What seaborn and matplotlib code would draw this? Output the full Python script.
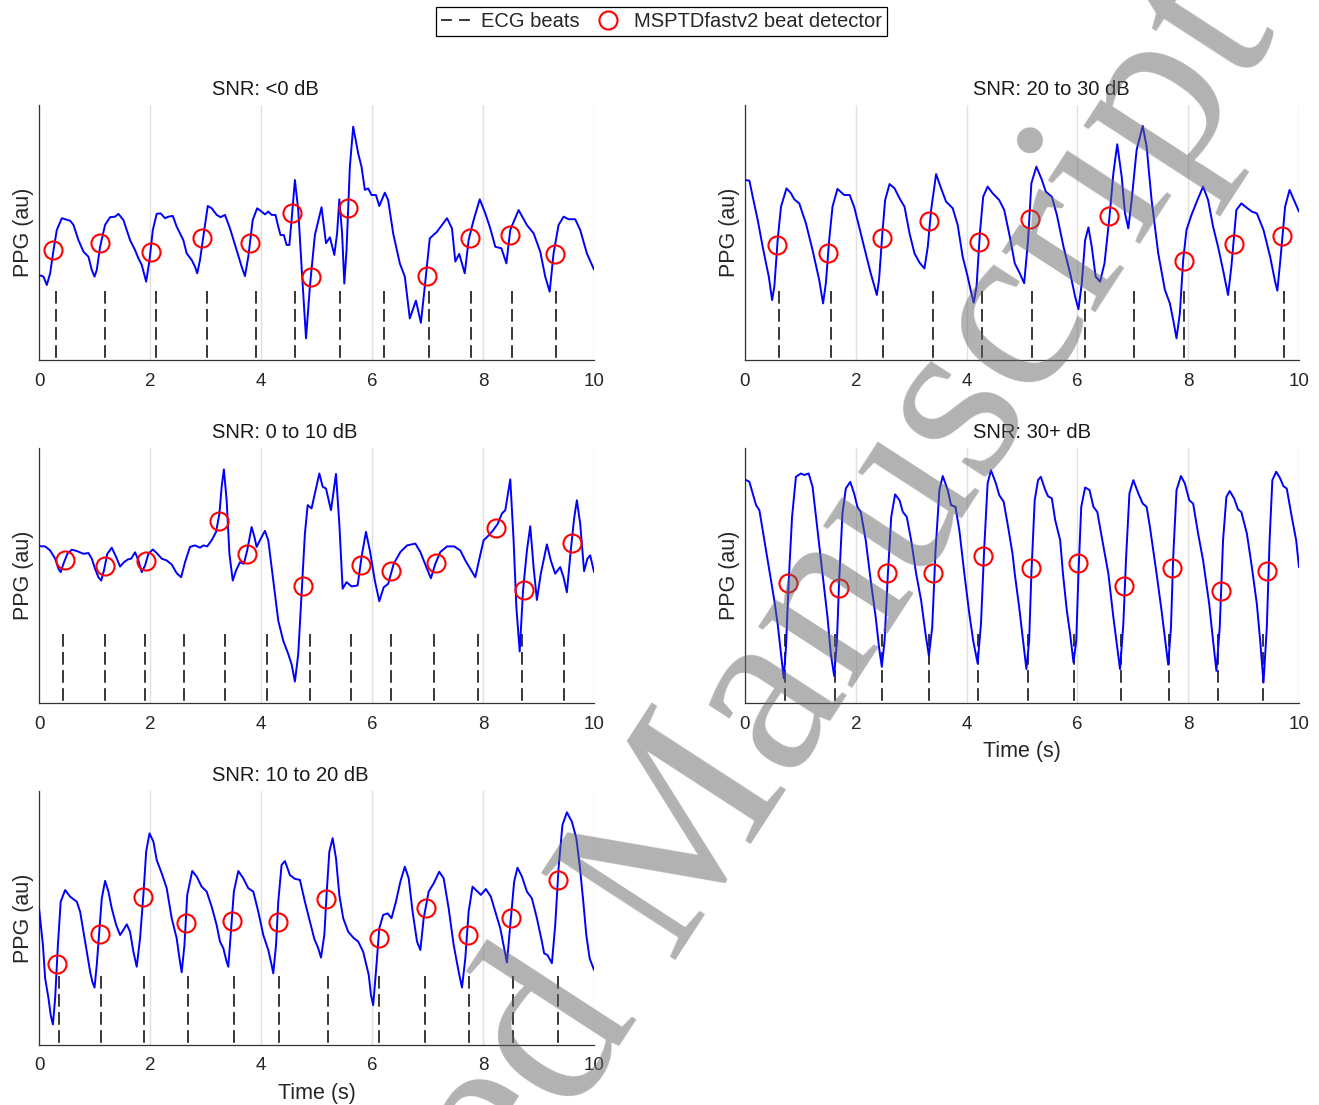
import numpy as np
import matplotlib
matplotlib.use("Agg")
import matplotlib.pyplot as plt
import seaborn as sns
from matplotlib.lines import Line2D

sns.set_style("white")
plt.rcParams['font.family'] = ['Liberation Sans', 'DejaVu Sans']

# ---- SNR: <0 dB ----
t_lt0 = [0.00, 0.08, 0.14, 0.20, 0.26, 0.32, 0.41, 0.56, 0.62, 0.71, 0.80, 0.89, 0.95, 1.00, 1.04,
         1.10, 1.19, 1.28, 1.37, 1.43, 1.52, 1.64, 1.73, 1.79, 1.85, 1.93, 1.99, 2.05, 2.12, 2.19,
         2.27, 2.33, 2.41, 2.48, 2.60, 2.66, 2.75, 2.81, 2.85, 2.90, 2.96, 3.04, 3.11, 3.20, 3.27,
         3.35, 3.44, 3.56, 3.65, 3.71, 3.77, 3.85, 3.93, 4.01, 4.07, 4.13, 4.19, 4.26, 4.31, 4.35,
         4.41, 4.46, 4.51, 4.56, 4.61, 4.67, 4.73, 4.81, 4.88, 4.97, 5.09, 5.17, 5.24, 5.32, 5.37,
         5.41, 5.46, 5.50, 5.54, 5.60, 5.66, 5.75, 5.81, 5.87, 5.93, 5.99, 6.07, 6.13, 6.23, 6.29,
         6.38, 6.50, 6.59, 6.68, 6.79, 6.88, 6.95, 7.04, 7.17, 7.35, 7.44, 7.50, 7.57, 7.67, 7.74,
         7.83, 7.94, 8.04, 8.13, 8.22, 8.33, 8.42, 8.49, 8.64, 8.79, 8.91, 9.03, 9.12, 9.20, 9.27,
         9.36, 9.45, 9.54, 9.66, 9.75, 9.87, 10.00]
ppg_lt0 = [33.3, 32.7, 29.4, 34.0, 43.0, 51.0, 55.6, 54.6, 53.0, 47.0, 42.5, 40.5, 35.3, 32.7, 35.3,
           44.4, 53.0, 56.0, 56.2, 57.3, 54.9, 47.0, 43.1, 39.9, 37.3, 30.7, 39.2, 51.0, 57.3, 57.5,
           55.6, 56.2, 56.5, 52.3, 47.0, 41.8, 39.2, 36.6, 34.0, 39.2, 48.4, 60.4, 59.5, 56.9, 56.0,
           56.9, 51.6, 43.1, 36.6, 32.9, 40.5, 54.9, 59.5, 58.2, 57.1, 58.2, 56.9, 56.9, 52.3, 49.0,
           49.0, 45.1, 45.1, 57.5, 70.6, 58.8, 36.6, 8.5, 28.8, 49.0, 59.9, 45.8, 48.1, 41.2, 49.7,
           63.0, 49.7, 30.0, 43.1, 75.8, 91.5, 81.0, 75.8, 66.7, 67.3, 64.7, 64.7, 60.4, 65.6, 62.7,
           49.7, 37.9, 32.7, 16.3, 23.3, 14.6, 28.8, 47.7, 50.3, 55.6, 51.6, 38.6, 41.6, 34.0, 47.1,
           54.9, 63.0, 57.5, 51.6, 44.4, 43.8, 37.9, 51.0, 58.8, 52.9, 49.7, 42.5, 32.7, 26.8, 41.8,
           52.9, 56.2, 55.2, 55.2, 51.0, 41.8, 35.4]
det_t_lt0 = [0.26, 1.10, 2.01, 2.94, 3.80, 4.56, 4.90, 5.56, 6.99, 7.77, 8.49, 9.29]
det_y_lt0 = [43.1, 45.8, 42.5, 48.0, 46.0, 57.8, 32.7, 59.5, 33.1, 48.0, 49.0, 41.6]
ecg_lt0 = [0.31, 1.19, 2.11, 3.03, 3.90, 4.61, 5.42, 6.22, 7.02, 7.78, 8.52, 9.31]

# ---- SNR: 20 to 30 dB ----
t_20 = [0.00, 0.08, 0.14, 0.23, 0.32, 0.38, 0.43, 0.49, 0.53, 0.59, 0.65, 0.75, 0.83, 0.89, 0.98,
        1.10, 1.22, 1.34, 1.41, 1.46, 1.52, 1.58, 1.67, 1.79, 1.89, 1.97, 2.06, 2.18, 2.27, 2.33,
        2.38, 2.42, 2.48, 2.53, 2.61, 2.70, 2.79, 2.88, 2.97, 3.06, 3.15, 3.24, 3.30, 3.36, 3.45,
        3.54, 3.63, 3.75, 3.84, 3.93, 4.02, 4.08, 4.13, 4.18, 4.24, 4.30, 4.38, 4.47, 4.59, 4.68,
        4.78, 4.87, 4.96, 5.04, 5.11, 5.17, 5.26, 5.36, 5.43, 5.54, 5.63, 5.75, 5.87, 5.96, 6.02,
        6.08, 6.14, 6.20, 6.26, 6.33, 6.41, 6.49, 6.58, 6.65, 6.72, 6.80, 6.86, 6.92, 6.98, 7.07,
        7.18, 7.25, 7.34, 7.46, 7.58, 7.67, 7.73, 7.79, 7.85, 7.91, 7.97, 8.06, 8.18, 8.27, 8.36,
        8.45, 8.54, 8.63, 8.72, 8.78, 8.87, 8.96, 9.07, 9.15, 9.24, 9.36, 9.48, 9.57, 9.61, 9.67,
        9.75, 9.83, 9.91, 10.00]
ppg_20 = [70.6, 70.3, 64.0, 54.9, 44.4, 37.9, 32.7, 23.5, 28.8, 47.0, 60.1, 67.3, 65.4, 63.0, 61.4,
          53.6, 43.1, 31.4, 22.2, 30.1, 47.0, 60.1, 67.1, 64.7, 64.7, 60.1, 52.3, 41.8, 34.0, 29.4,
          25.5, 31.4, 49.7, 62.7, 69.0, 67.3, 63.4, 60.1, 49.7, 41.8, 38.2, 35.9, 44.4, 58.8, 72.9,
          67.3, 62.1, 59.5, 52.9, 40.5, 32.7, 26.8, 22.5, 28.8, 49.7, 64.0, 68.0, 65.4, 62.7, 58.8,
          48.4, 37.9, 34.0, 30.1, 47.0, 69.3, 75.8, 70.6, 66.0, 64.0, 56.9, 44.4, 34.0, 24.8, 19.9,
          30.1, 47.0, 52.0, 44.4, 32.7, 30.7, 37.9, 56.2, 73.2, 84.6, 71.9, 57.5, 51.6, 62.7, 82.4,
          91.8, 83.7, 62.7, 41.8, 27.5, 22.2, 15.7, 8.5, 18.3, 39.2, 51.0, 56.9, 63.4, 68.0, 62.7,
          52.3, 44.4, 35.3, 25.5, 36.6, 58.8, 61.4, 59.5, 58.2, 57.5, 51.0, 40.5, 30.7, 27.2, 40.5,
          60.1, 66.7, 62.7, 58.2]
det_t_20 = [0.58, 1.50, 2.47, 3.33, 4.23, 5.14, 6.58, 7.92, 8.83, 9.70]
det_y_20 = [45.1, 42.0, 47.7, 54.5, 46.1, 55.3, 56.3, 38.8, 45.4, 48.8]
ecg_20 = [0.62, 1.55, 2.50, 3.39, 4.27, 5.19, 6.14, 7.02, 7.92, 8.85, 9.73]

# ---- SNR: 0 to 10 dB ----
t_0 = [0.00, 0.11, 0.20, 0.29, 0.35, 0.39, 0.44, 0.51, 0.59, 0.68, 0.80, 0.89, 0.95, 1.01, 1.07,
       1.12, 1.17, 1.23, 1.31, 1.39, 1.46, 1.53, 1.60, 1.66, 1.73, 1.79, 1.85, 1.91, 1.97, 2.05,
       2.12, 2.21, 2.30, 2.39, 2.48, 2.56, 2.63, 2.72, 2.81, 2.90, 2.96, 3.03, 3.11, 3.19, 3.25,
       3.29, 3.33, 3.38, 3.43, 3.49, 3.55, 3.62, 3.69, 3.75, 3.83, 3.88, 3.92, 4.01, 4.07, 4.13,
       4.19, 4.25, 4.31, 4.40, 4.49, 4.55, 4.61, 4.67, 4.73, 4.79, 4.84, 4.91, 4.97, 5.05, 5.11,
       5.17, 5.26, 5.35, 5.41, 5.47, 5.54, 5.63, 5.74, 5.81, 5.89, 5.96, 6.05, 6.13, 6.21, 6.29,
       6.39, 6.51, 6.63, 6.78, 6.87, 6.99, 7.06, 7.14, 7.23, 7.35, 7.48, 7.59, 7.68, 7.77, 7.86,
       7.94, 8.01, 8.10, 8.18, 8.26, 8.34, 8.40, 8.49, 8.55, 8.60, 8.66, 8.72, 8.79, 8.85, 8.91,
       8.97, 9.04, 9.15, 9.22, 9.30, 9.39, 9.45, 9.51, 9.58, 9.64, 9.69, 9.75, 9.82, 9.88, 9.93,
       10.00]
ppg_0 = [61.5, 61.4, 59.8, 56.6, 52.6, 51.3, 54.6, 58.5, 60.1, 59.6, 58.5, 58.8, 56.6, 52.6, 49.3,
         48.0, 52.0, 58.5, 60.9, 57.2, 53.5, 55.2, 56.3, 56.6, 59.1, 55.9, 51.3, 53.9, 58.5, 60.2,
         58.8, 56.6, 55.9, 54.3, 50.9, 49.3, 55.2, 61.2, 61.8, 60.9, 61.8, 61.4, 63.8, 67.1, 74.3,
         84.8, 91.6, 79.5, 58.5, 48.0, 52.0, 55.2, 54.6, 59.8, 69.0, 65.1, 61.2, 65.1, 67.5, 63.8,
         53.3, 42.8, 32.3, 24.4, 19.2, 15.2, 8.4, 19.2, 42.8, 66.4, 77.6, 76.3, 82.2, 90.0, 84.8,
         84.1, 75.6, 89.8, 70.3, 44.8, 47.4, 45.7, 46.1, 57.2, 67.1, 59.8, 48.0, 39.9, 45.4, 46.7,
         54.6, 59.2, 61.8, 62.5, 59.2, 52.6, 48.9, 54.6, 59.2, 61.4, 61.4, 59.8, 55.9, 52.6, 49.3,
         57.2, 63.8, 65.7, 67.7, 70.1, 74.3, 75.6, 87.7, 63.8, 37.5, 20.2, 44.1, 59.8, 69.3, 53.3,
         40.4, 50.7, 62.2, 55.9, 50.7, 53.3, 49.3, 43.4, 59.8, 72.3, 79.5, 70.3, 51.7, 56.6, 57.9,
         51.3]
det_t_0 = [0.46, 1.19, 1.93, 3.24, 3.75, 4.75, 5.80, 6.35, 7.15, 8.24, 8.73, 9.60]
det_y_0 = [55.9, 53.9, 55.6, 71.4, 58.5, 45.9, 54.3, 51.7, 54.9, 68.6, 44.5, 62.9]
ecg_0 = [0.43, 1.18, 1.91, 2.62, 3.35, 4.11, 4.88, 5.62, 6.34, 7.11, 7.90, 8.70, 9.45]

# ---- SNR: 30+ dB ----
t_30 = [0.00, 0.08, 0.14, 0.20, 0.26, 0.35, 0.44, 0.53, 0.59, 0.65, 0.70, 0.74, 0.79, 0.85, 0.92,
        1.01, 1.07, 1.15, 1.22, 1.31, 1.40, 1.49, 1.55, 1.61, 1.66, 1.70, 1.76, 1.82, 1.90, 1.97,
        2.03, 2.09, 2.18, 2.27, 2.36, 2.42, 2.47, 2.52, 2.58, 2.64, 2.71, 2.79, 2.85, 2.92, 3.00,
        3.09, 3.18, 3.26, 3.32, 3.38, 3.44, 3.51, 3.57, 3.66, 3.72, 3.80, 3.87, 3.96, 4.05, 4.12,
        4.20, 4.26, 4.32, 4.38, 4.44, 4.53, 4.59, 4.67, 4.74, 4.83, 4.87, 4.95, 5.02, 5.08, 5.13,
        5.17, 5.23, 5.29, 5.34, 5.42, 5.47, 5.54, 5.60, 5.69, 5.74, 5.81, 5.87, 5.93, 5.98, 6.02,
        6.07, 6.14, 6.22, 6.29, 6.36, 6.44, 6.56, 6.65, 6.72, 6.77, 6.83, 6.88, 6.94, 7.01, 7.10,
        7.18, 7.25, 7.31, 7.43, 7.52, 7.58, 7.64, 7.69, 7.73, 7.79, 7.87, 7.94, 8.02, 8.09, 8.18,
        8.27, 8.38, 8.45, 8.51, 8.57, 8.63, 8.69, 8.75, 8.83, 8.90, 8.96, 9.06, 9.15, 9.24, 9.30,
        9.36, 9.42, 9.47, 9.52, 9.59, 9.66, 9.72, 9.78, 9.87, 9.95, 10.00]
ppg_30 = [87.7, 86.7, 82.2, 77.6, 75.6, 63.8, 52.0, 40.2, 31.0, 19.2, 9.7, 21.8, 48.0, 73.0, 88.7,
          90.0, 89.4, 90.0, 84.8, 67.7, 50.7, 33.6, 19.2, 10.6, 24.4, 48.0, 74.3, 84.1, 86.7, 82.2,
          76.9, 74.9, 63.8, 48.0, 33.6, 21.8, 14.2, 24.4, 50.7, 73.0, 81.8, 79.5, 74.9, 73.0, 63.8,
          50.7, 40.2, 27.0, 18.5, 29.7, 59.8, 83.5, 89.0, 83.5, 77.6, 76.9, 67.7, 50.7, 34.9, 24.4,
          15.5, 31.0, 61.2, 86.1, 91.3, 86.1, 81.5, 78.9, 70.3, 58.5, 50.7, 37.5, 24.4, 13.3, 24.4,
          50.7, 79.5, 87.4, 88.7, 83.5, 81.1, 80.2, 71.7, 63.8, 50.7, 36.2, 27.0, 15.9, 24.4, 50.7,
          76.9, 84.5, 83.5, 76.9, 74.9, 65.1, 50.7, 33.6, 21.8, 13.3, 31.0, 57.2, 82.2, 87.4, 82.2,
          78.2, 76.9, 69.0, 50.7, 36.2, 25.7, 15.0, 29.7, 57.2, 83.5, 89.0, 86.1, 79.5, 78.2, 66.4,
          55.9, 38.8, 24.4, 12.6, 29.7, 63.8, 80.8, 83.1, 80.2, 75.9, 74.9, 66.4, 53.3, 38.8, 24.4,
          8.0, 29.7, 63.8, 87.4, 90.7, 88.1, 85.0, 84.1, 73.0, 63.8, 53.3]
det_t_30 = [0.78, 1.70, 2.56, 3.40, 4.29, 5.17, 6.02, 6.84, 7.71, 8.59, 9.43]
det_y_30 = [47.0, 45.0, 50.9, 50.9, 57.6, 53.0, 54.9, 45.8, 52.9, 44.1, 51.6]
ecg_30 = [0.72, 1.63, 2.47, 3.32, 4.21, 5.10, 5.94, 6.78, 7.65, 8.53, 9.36]

# ---- SNR: 10 to 20 dB ----
t_10 = [0.00, 0.07, 0.11, 0.17, 0.21, 0.25, 0.29, 0.34, 0.39, 0.47, 0.56, 0.68, 0.74, 0.80, 0.86,
        0.92, 0.96, 1.00, 1.04, 1.09, 1.13, 1.19, 1.25, 1.31, 1.39, 1.46, 1.52, 1.58, 1.64, 1.70,
        1.76, 1.82, 1.88, 1.93, 1.99, 2.06, 2.12, 2.21, 2.30, 2.39, 2.48, 2.53, 2.57, 2.62, 2.67,
        2.76, 2.84, 2.93, 3.02, 3.11, 3.20, 3.26, 3.32, 3.38, 3.41, 3.46, 3.51, 3.59, 3.68, 3.77,
        3.86, 3.95, 4.04, 4.13, 4.19, 4.22, 4.27, 4.31, 4.37, 4.43, 4.52, 4.61, 4.70, 4.79, 4.88,
        4.96, 5.03, 5.08, 5.14, 5.18, 5.23, 5.29, 5.35, 5.41, 5.48, 5.57, 5.66, 5.75, 5.84, 5.94,
        5.98, 6.02, 6.07, 6.13, 6.20, 6.28, 6.35, 6.43, 6.51, 6.59, 6.66, 6.73, 6.81, 6.87, 6.93,
        7.02, 7.11, 7.21, 7.29, 7.38, 7.47, 7.56, 7.62, 7.68, 7.74, 7.81, 7.89, 7.96, 8.05, 8.14,
        8.22, 8.31, 8.38, 8.43, 8.49, 8.56, 8.62, 8.70, 8.79, 8.88, 8.97, 9.06, 9.10, 9.16, 9.24,
        9.30, 9.36, 9.43, 9.51, 9.60, 9.68, 9.74, 9.80, 9.86, 9.92, 10.00]
ppg_10 = [53.8, 39.4, 26.2, 18.4, 11.8, 8.1, 18.4, 39.4, 56.4, 61.0, 58.4, 56.4, 52.5, 44.6, 36.7,
          28.9, 24.9, 22.6, 31.5, 45.9, 57.7, 64.6, 60.4, 53.8, 47.2, 43.3, 45.3, 47.5, 44.6, 36.7,
          30.8, 42.0, 59.1, 76.1, 83.3, 80.1, 72.8, 67.6, 61.7, 49.9, 42.0, 34.1, 28.6, 39.4, 59.1,
          68.5, 66.3, 62.3, 60.4, 54.5, 47.2, 40.7, 38.1, 32.8, 30.8, 45.9, 60.4, 68.5, 65.6, 61.7,
          60.4, 52.5, 43.3, 37.4, 31.5, 28.2, 39.4, 56.4, 70.9, 72.4, 66.9, 65.4, 65.0, 56.4, 48.6,
          41.7, 38.1, 34.4, 43.3, 59.1, 76.1, 81.4, 73.5, 59.1, 49.9, 44.6, 42.3, 40.7, 36.7, 27.6,
          19.7, 15.7, 28.9, 45.9, 51.2, 51.8, 49.9, 56.4, 64.3, 70.2, 65.6, 52.5, 40.7, 37.4, 49.9,
          60.4, 63.6, 68.2, 65.6, 53.8, 39.4, 28.9, 22.6, 34.1, 52.5, 62.3, 60.6, 59.1, 61.4, 58.4,
          52.5, 45.9, 38.1, 32.5, 47.2, 64.3, 69.8, 66.3, 60.4, 57.7, 49.9, 40.7, 36.1, 35.4, 32.2,
          47.2, 69.6, 86.6, 91.6, 87.9, 81.4, 70.9, 57.7, 43.3, 34.1, 29.5]
det_t_10 = [0.32, 1.09, 1.87, 2.65, 3.47, 4.30, 5.17, 6.13, 6.97, 7.72, 8.50, 9.35]
det_y_10 = [31.8, 43.6, 58.1, 47.9, 48.8, 48.6, 57.5, 42.0, 54.1, 43.3, 50.1, 65.0]
ecg_10 = [0.36, 1.12, 1.90, 2.68, 3.51, 4.33, 5.21, 6.13, 6.96, 7.74, 8.54, 9.35]

# title, data..., axes rect, title x (axes fraction), show xlabel
panels = [
    ("SNR: <0 dB", t_lt0, ppg_lt0, det_t_lt0, det_y_lt0, ecg_lt0, [0.0296, 0.6742, 0.4208, 0.2308], 0.312, False),
    ("SNR: 0 to 10 dB", t_0, ppg_0, det_t_0, det_y_0, ecg_0, [0.0296, 0.3638, 0.4208, 0.2308], 0.312, False),
    ("SNR: 10 to 20 dB", t_10, ppg_10, det_t_10, det_y_10, ecg_10, [0.0296, 0.0543, 0.4208, 0.2299], 0.312, True),
    ("SNR: 20 to 30 dB", t_20, ppg_20, det_t_20, det_y_20, ecg_20, [0.5648, 0.6742, 0.4200, 0.2308], 0.411, False),
    ("SNR: 30+ dB", t_30, ppg_30, det_t_30, det_y_30, ecg_30, [0.5648, 0.3638, 0.4200, 0.2308], 0.411, True),
]

fig = plt.figure(figsize=(13.19, 11.05), dpi=100)
axis_col = '0.2'
ecg_dash = (0, (7, 3))

for title, t, ppg, dt, dy, ecg, pos, tx, show_xlabel in panels:
    ax = fig.add_axes(pos)
    ax.grid(False)
    for gx in range(0, 11, 2):
        ax.axvline(gx, color='0.88', lw=1.0, zorder=0)
    sns.lineplot(x=t, y=ppg, ax=ax, color='blue', lw=1.4, estimator=None, zorder=3)
    for e in ecg:
        ax.plot([e, e], [27, 0], color='0.15', lw=1.3, linestyle=ecg_dash, zorder=2)
    ax.plot(dt, dy, 'o', ms=13, mfc='none', mec='red', mew=1.5, zorder=4)
    ax.set_xlim(0, 10)
    ax.set_ylim(0, 100)
    ax.set_xticks(range(0, 11, 2))
    ax.set_yticks([])
    ax.tick_params(axis='x', direction='in', length=5, width=0.8, colors=axis_col,
                   labelsize=13.5, pad=9, labelcolor='0.15')
    for side in ['top', 'right']:
        ax.spines[side].set_visible(False)
    for side in ['left', 'bottom']:
        ax.spines[side].set_color(axis_col)
        ax.spines[side].set_linewidth(0.9)
    ax.set_title(title, fontsize=14.5, pad=7.5, color='0.1', x=tx, ha='left')
    ax.set_ylabel('PPG (au)', fontsize=15.5, color='0.15')
    ax.yaxis.set_label_coords(-0.009, 0.5)
    if show_xlabel:
        ax.set_xlabel('Time (s)', fontsize=15.5, color='0.15', labelpad=6)
    else:
        ax.set_xlabel('')

handles = [Line2D([], [], color='0.15', lw=1.3, linestyle=(0, (6, 4))),
           Line2D([], [], marker='o', ms=13, mfc='none', mec='red', mew=1.5, lw=0)]
fig.legend(handles, ['ECG beats', 'MSPTDfastv2 beat detector'], loc='upper center',
           bbox_to_anchor=(0.5015, 0.9935), ncol=2, fontsize=14.5, frameon=True,
           fancybox=False, edgecolor='black', framealpha=1, handlelength=1.4,
           columnspacing=0.75, handletextpad=0.55, borderpad=0.25, borderaxespad=0)
fig.legends[0].get_frame().set_linewidth(0.9)

fig.text(0.499, 0.2045, 'Accepted Manuscript', rotation=57, rotation_mode='anchor',
         ha='center', va='center', fontsize=176, family='Liberation Serif',
         color='0.4', alpha=0.5, zorder=10)

fig.savefig('out.png', dpi=100)
